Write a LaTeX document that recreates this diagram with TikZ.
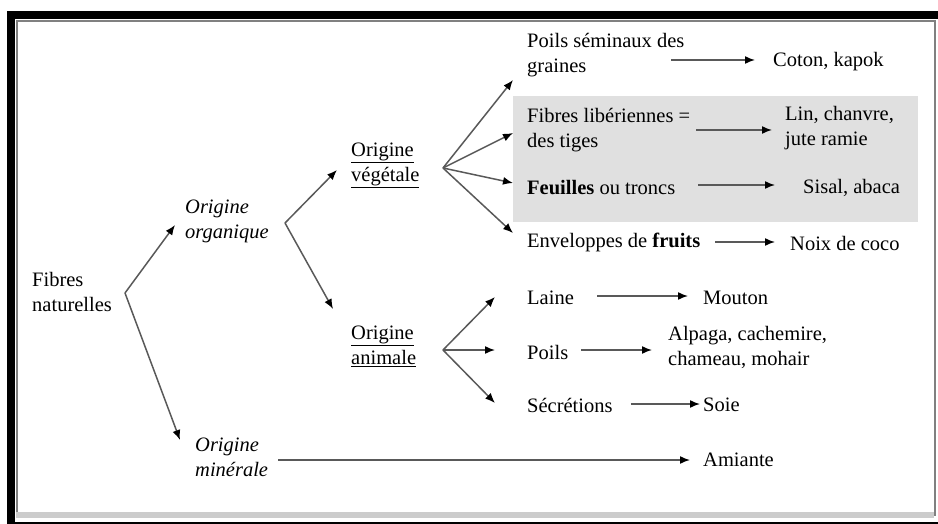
\documentclass[tikz,border=0pt]{standalone}
\usepackage{fontspec}
\setmainfont{Liberation Serif}
\usetikzlibrary{calc,arrows.meta}
\begin{document}
\begin{tikzpicture}[x=1pt,y=-1pt,
  lbl/.style={anchor=west,inner sep=0pt,align=left,font=\fontsize{20.5}{25}\selectfont},
  arr/.style={draw=black!65,line width=1.5pt,-{Latex[length=10pt,width=8pt,color=black]}},
]
\useasboundingbox (0,0) rectangle (938,524);
% frame
\fill[black] (7,11) rectangle (938,19);
\fill[black] (7,11) rectangle (14.5,524);
\fill[black] (7,522) rectangle (938,524);
\fill[black!50] (15.5,20) rectangle (18,514);
\fill[black!50] (15.5,20) rectangle (936,22.5);
\fill[black!50] (933.5,20) rectangle (936,516);
\fill[black!20] (16,512) rectangle (933.5,518);
% shaded band
\fill[black!12] (513,96) rectangle (918,222);

% nodes
\node[lbl] (fib) at (32,292) {Fibres\\naturelles};
\node[lbl] (org) at (185,221) {\itshape Origine\\\itshape organique};
\node[lbl] (min) at (195,457) {\itshape Origine\\\itshape minérale};
\node[lbl] (veg) at (351,165) {\underline{Origine}\\\underline{végétale}};
\node[lbl] (ani) at (351,346) {\underline{Origine}\\\underline{animale}};
\node[lbl] (poi) at (527,55) {Poils séminaux des\\graines};
\node[lbl] (cot) at (773,62) {Coton, kapok};
\node[lbl] (lib) at (527,130) {Fibres libériennes =\\des tiges};
\node[lbl] (lin) at (785,128) {Lin, chanvre,\\jute ramie};
\node[lbl] (feu) at (527,188) {\textbf{Feuilles} ou troncs};
\node[lbl] (sis) at (803,188) {Sisal, abaca};
\node[lbl] (env) at (527,242) {Enveloppes de \textbf{fruits}};
\node[lbl] (noi) at (790,243) {Noix de coco};
\node[lbl] (lai) at (527,298) {Laine};
\node[lbl] (mou) at (703,298) {Mouton};
\node[lbl] (pol) at (527,352) {Poils};
\node[lbl] (alp) at (668,347) {Alpaga, cachemire,\\chameau, mohair};
\node[lbl] (sec) at (527,405) {Sécrétions};
\node[lbl] (soi) at (703,405) {Soie};
\node[lbl] (ami) at (703,460) {Amiante};

% branch points
\coordinate (b1) at ($(fib.west)+(93,1)$);
\coordinate (b2) at ($(org.west)+(100,2)$);
\coordinate (b3) at ($(veg.west)+(92,3)$);
\coordinate (b4) at ($(ani.west)+(92,4)$);

% diagonal arrows
\draw[arr] (b1) -- ($(org.west)+(-10,4)$);
\draw[arr] (b1) -- ($(min.west)+(-15,-17)$);
\draw[arr] (b2) -- ($(veg.west)+(-14,5)$);
\draw[arr] (b2) -- ($(ani.west)+(-18,-37)$);
\draw[arr] (b3) -- ($(poi.west)+(-14,25)$);
\draw[arr] (b3) -- ($(lib.west)+(-14,3)$);
\draw[arr] (b3) -- ($(feu.west)+(-14,-5)$);
\draw[arr] (b3) -- ($(env.west)+(-14,-9)$);
\draw[arr] (b4) -- ($(lai.west)+(-32,-1)$);
\draw[arr] (b4) -- ($(pol.west)+(-32,-2)$);
\draw[arr] (b4) -- ($(sec.west)+(-32,-2)$);

% horizontal arrows
\draw[arr] ($(cot.west)+(-102,-2)$) -- ($(cot.west)+(-18,-2)$);
\draw[arr] ($(lin.west -| lib.east)+(6,2)$) -- ($(lin.west)+(-13,2)$);
\draw[arr] ($(sis.west -| feu.east)+(23,-3)$) -- ($(sis.west)+(-28,-3)$);
\draw[arr] ($(noi.west -| env.east)+(15,-1)$) -- ($(noi.west)+(-15,-1)$);
\draw[arr] ($(mou.west -| lai.east)+(23,-2)$) -- ($(mou.west)+(-15,-2)$);
\draw[arr] ($(pol.east)+(13,-2)$) -- ($(pol.east -| alp.west)+(-16,-2)$);
\draw[arr] ($(soi.west -| sec.east)+(18,-1)$) -- ($(soi.west)+(-3,-1)$);
\draw[arr] ($(ami.west -| min.east)+(10,0)$) -- ($(ami.west)+(-13,0)$);
\end{tikzpicture}
\end{document}
